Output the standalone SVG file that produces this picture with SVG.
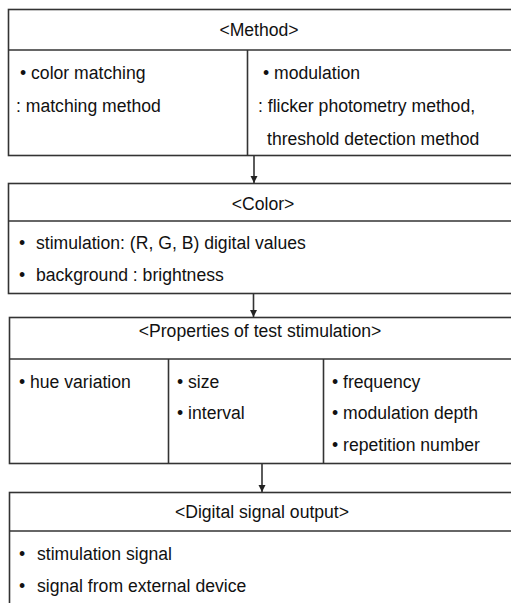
<svg xmlns="http://www.w3.org/2000/svg" width="511" height="603" viewBox="0 0 511 603">
<style>
.box{fill:#fff;stroke:#333;stroke-width:1.6}
.ln{stroke:#333;stroke-width:1.6;fill:none}
text{font-family:"Liberation Sans",Arial,sans-serif;font-size:17.6px;fill:#111}
.c{text-anchor:middle}
</style>
<defs>
<marker id="ah" markerWidth="8" markerHeight="8" refX="7" refY="4" orient="auto" markerUnits="userSpaceOnUse">
<path d="M0,0.5 L7,4 L0,7.5 Z" fill="#222"/>
</marker>
</defs>
<rect width="511" height="603" fill="#fff"/>
<g id="method">
<rect class="box" x="8.5" y="9.5" width="520" height="146"/>
<line class="ln" x1="8.5" y1="50" x2="520" y2="50"/>
<line class="ln" x1="247.5" y1="50" x2="247.5" y2="155.5"/>
<text class="c" x="259" y="36">&lt;Method&gt;</text>
<text x="20" y="79">• color matching</text>
<text x="16" y="112">: matching method</text>
<text x="263" y="79">• modulation</text>
<text x="258" y="112">: flicker photometry method,</text>
<text x="267" y="145">threshold detection method</text>
</g>
<g id="color">
<rect class="box" x="8.5" y="183.5" width="520" height="110"/>
<line class="ln" x1="8.5" y1="221" x2="520" y2="221"/>
<text class="c" x="263" y="210">&lt;Color&gt;</text>
<text x="19" y="249">•</text>
<text x="36" y="249">stimulation: (R, G, B) digital values</text>
<text x="19" y="281">•</text>
<text x="36" y="281">background : brightness</text>
</g>
<g id="properties">
<rect class="box" x="9.5" y="317.5" width="520" height="146"/>
<line class="ln" x1="9.5" y1="359" x2="520" y2="359"/>
<line class="ln" x1="168.5" y1="359" x2="168.5" y2="463.5"/>
<line class="ln" x1="323.5" y1="359" x2="323.5" y2="463.5"/>
<text class="c" x="260" y="337">&lt;Properties of test stimulation&gt;</text>
<text x="19" y="388">• hue variation</text>
<text x="177" y="388">• size</text>
<text x="177" y="419">• interval</text>
<text x="332" y="388">• frequency</text>
<text x="332" y="419">• modulation depth</text>
<text x="332" y="451">• repetition number</text>
</g>
<g id="digital">
<rect class="box" x="9.5" y="492.5" width="520" height="130"/>
<line class="ln" x1="9.5" y1="531" x2="520" y2="531"/>
<text class="c" x="262" y="518">&lt;Digital signal output&gt;</text>
<text x="19" y="560">•</text>
<text x="37" y="560">stimulation signal</text>
<text x="19" y="592">•</text>
<text x="37" y="592">signal from external device</text>
</g>
<g id="connectors">
<line class="ln" x1="254" y1="156" x2="254" y2="183" marker-end="url(#ah)"/>
<line class="ln" x1="253.5" y1="294" x2="253.5" y2="317" marker-end="url(#ah)"/>
<line class="ln" x1="262" y1="464" x2="262" y2="492" marker-end="url(#ah)"/>
</g>
</svg>
